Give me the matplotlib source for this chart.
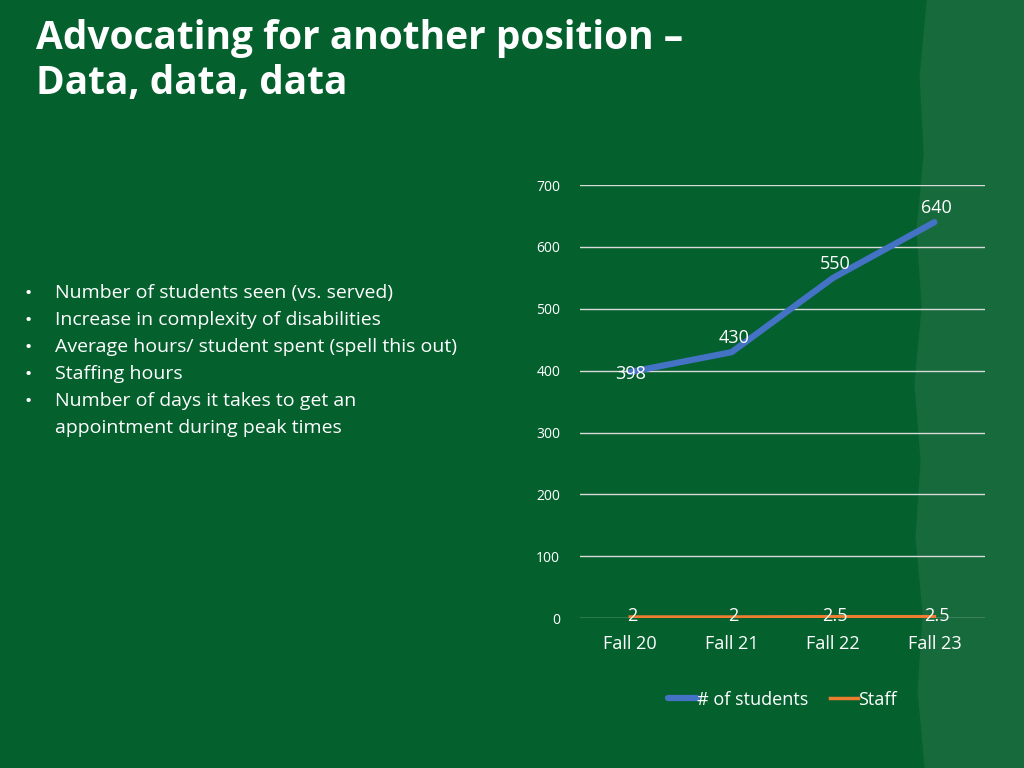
import matplotlib.pyplot as plt
from matplotlib.patches import Polygon

categories = ["Fall 20", "Fall 21", "Fall 22", "Fall 23"]
students = [398, 430, 550, 640]
staff = [2, 2, 2.5, 2.5]
student_labels = ["398", "430", "550", "640"]
staff_labels = ["2", "2", "2.5", "2.5"]
bullets = [
    "Number of students seen (vs. served)",
    "Increase in complexity of disabilities",
    "Average hours/ student spent (spell this out)",
    "Staffing hours",
    "Number of days it takes to get an",
    "appointment during peak times",
]

plt.rcParams["font.family"] = "Open Sans"
fig = plt.figure(figsize=(10.24, 7.68), dpi=100)
fig.patch.set_facecolor("#04612e")

# background axes for the lighter strip with a rough edge
bg = fig.add_axes([0, 0, 1, 1], zorder=-1)
bg.set_xlim(0, 1)
bg.set_ylim(0, 1)
bg.axis("off")
edge_x = [0.905, 0.898, 0.902, 0.895, 0.900, 0.893, 0.899, 0.894, 0.901, 0.896, 0.903]
edge_y = [1.0, 0.9, 0.8, 0.7, 0.6, 0.5, 0.4, 0.3, 0.2, 0.1, 0.0]
pts = [(1, 1)] + list(zip(edge_x, edge_y)) + [(1, 0)]
bg.add_patch(Polygon(pts, closed=True, facecolor="#176a3b", edgecolor="none"))

fig.text(0.035, 0.975, "Advocating for another position –\nData, data, data",
         color="white", fontsize=28, fontweight="bold", va="top", linespacing=1.2)

y = 0.619
for i, b in enumerate(bullets):
    if i < 5:
        fig.text(0.024, y, "•", color="white", fontsize=14, va="center")
    fig.text(0.054, y, b, color="white", fontsize=14, va="center")
    y -= 0.0352

ax = fig.add_axes([0.566, 0.195, 0.396, 0.564])
ax.set_facecolor("none")
x = range(len(categories))
ax.plot(x, students, color="#4472c4", lw=4.5, solid_capstyle="round", label="# of students", zorder=3)
ax.plot(x, staff, color="#ed7d31", lw=2.5, label="Staff", zorder=3)
for i, v in enumerate(students):
    ax.text(i + 0.02, v + 8, student_labels[i], color="white", fontsize=13, ha="center", va="bottom")
ax.texts[0].set_position((0, 398 - 3))
ax.texts[0].set_va("center")
for i, v in enumerate(staff):
    ax.text(i + 0.02, v + 1, staff_labels[i], color="white", fontsize=13, ha="center", va="center")

ax.set_xlim(-0.5, 3.5)
ax.set_ylim(0, 700)
ax.set_yticks(range(0, 701, 100))
ax.set_xticks(list(x))
ax.set_xticklabels(categories)
ax.grid(axis="y", color="#d9d9d9", lw=1)
ax.set_axisbelow(True)
for s in ax.spines.values():
    s.set_visible(False)
ax.tick_params(axis="y", colors="white", labelsize=10, length=0, pad=14)
ax.tick_params(axis="x", colors="white", labelsize=13, length=0, pad=12)
ax.legend(loc="upper center", bbox_to_anchor=(0.5, -0.13), ncol=2, frameon=False,
          fontsize=13, labelcolor="white", handlelength=1.6, columnspacing=1.2, handletextpad=0)

fig.savefig("out.png", dpi=100, facecolor=fig.get_facecolor())
